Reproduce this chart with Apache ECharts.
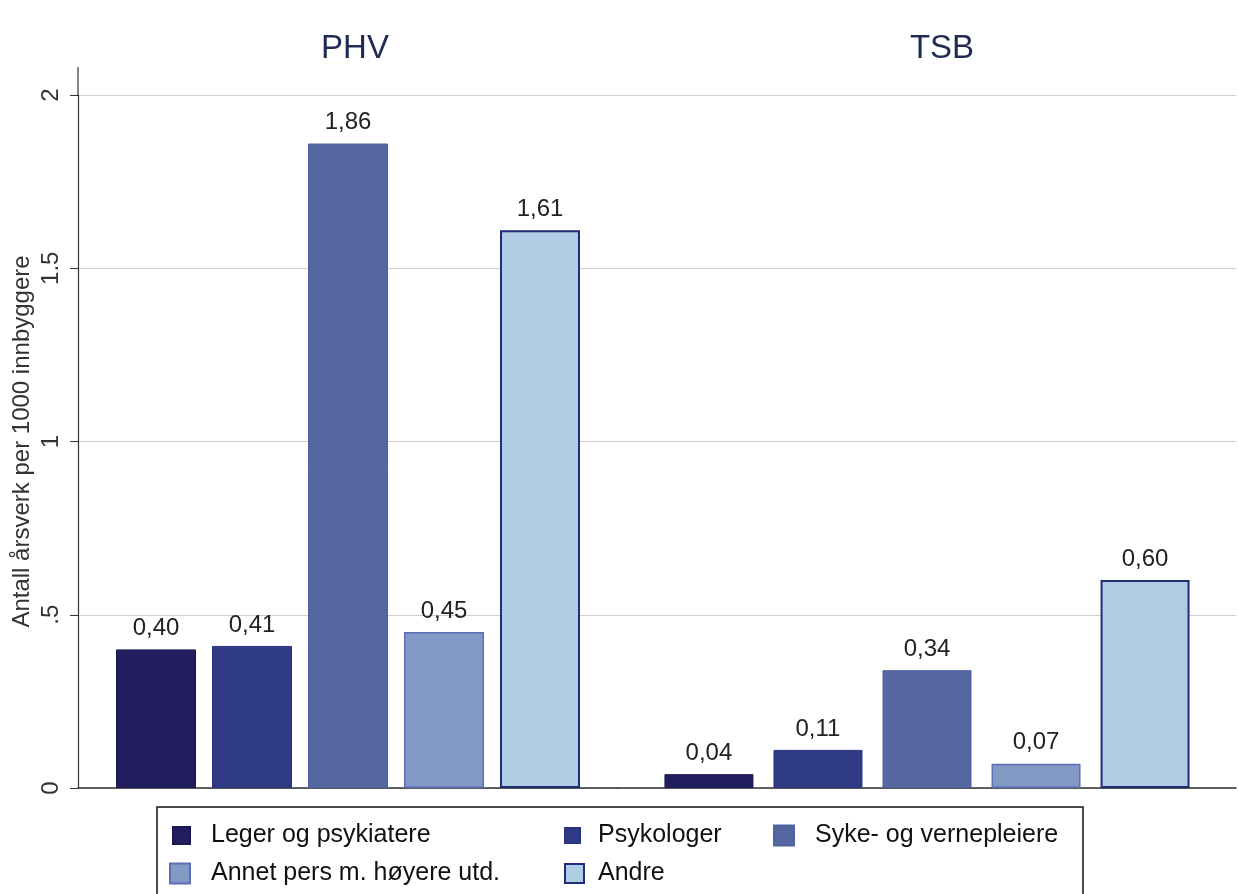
<!DOCTYPE html>
<html>
<head>
<meta charset="utf-8">
<script src="https://cdn.jsdelivr.net/npm/echarts@6/dist/echarts.min.js"></script>
<style>html,body{margin:0;padding:0;background:#fff}#c{width:1238px;height:894px}</style>
</head>
<body>
<div id="c"></div>
<script>
const panels = ['PHV', 'TSB'];
const seriesNames = ['Leger og psykiatere', 'Psykologer', 'Syke- og vernepleiere', 'Annet pers m. høyere utd.', 'Andre'];
const phvValues = [0.40, 0.41, 1.86, 0.45, 1.61];
const tsbValues = [0.04, 0.11, 0.34, 0.07, 0.60];
const yTicks = [0, 0.5, 1, 1.5, 2];
const yTickLabels = ['0', '.5', '1', '1.5', '2'];
const yAxisTitle = 'Antall årsverk per 1000 innbyggere';

const fills = ['#221e5e', '#2f3a85', '#54679f', '#8299c6', '#aecce3'];
const borders = ['#1a1850', '#2a3580', '#4f62a0', '#5b6fb5', '#232a78'];
const borderW = [1, 1, 1, 1.5, 2];
const FONT = '"Liberation Sans", Arial, sans-serif';

const chart = echarts.init(document.getElementById('c'), null, {renderer: 'canvas'});

function fmt(v) { return v.toFixed(2).replace('.', ','); }

const grids = [
  {left: 78, top: 95, width: 540, height: 693},
  {left: 618, top: 95, width: 618, height: 693}
];
const barWidths = [80, 89];
const barGaps = ['20%', '22.5%'];

const xAxes = panels.map((p, i) => ({
  type: 'category', gridIndex: i, data: [p],
  axisLine: {show: true, lineStyle: {color: '#333', width: 1.5}},
  axisTick: {show: false}, axisLabel: {show: false}
}));
const yAxes = panels.map((p, i) => ({
  type: 'value', gridIndex: i, min: 0, max: 2, interval: 0.5,
  name: i === 0 ? yAxisTitle : '',
  nameLocation: 'middle', nameGap: 44, nameRotate: 90,
  nameTextStyle: {fontFamily: FONT, fontSize: 24, color: '#333'},
  axisLine: {show: i === 0, lineStyle: {color: '#333', width: 1.2}},
  axisTick: {show: i === 0, length: 8, lineStyle: {color: '#333'}},
  axisLabel: {show: i === 0, rotate: 90, margin: 15, fontFamily: FONT, fontSize: 24, color: '#333',
    formatter: v => { const k = yTicks.indexOf(v); return k >= 0 ? yTickLabels[k] : ''; }},
  splitLine: {show: true, lineStyle: {color: '#cfcfcf', width: 1}}
}));

const series = [];
[phvValues, tsbValues].forEach((vals, p) => {
  seriesNames.forEach((name, k) => {
    series.push({
      name: name, type: 'bar', xAxisIndex: p, yAxisIndex: p,
      data: [vals[k]], barWidth: barWidths[p], barGap: barGaps[p],
      itemStyle: {color: fills[k], borderColor: borders[k], borderWidth: borderW[k]},
      label: {show: true, position: 'top', distance: 9, fontFamily: FONT, fontSize: 24, color: '#222',
        formatter: d => fmt(d.value)},
      emphasis: {disabled: true}, animation: false
    });
  });
});

const legendLayout = [
  {left: 172, top: 823, size: 17, pad: 16},
  {left: 564, top: 823, size: 15, pad: 13},
  {left: 773, top: 823, size: 20, pad: 16},
  {left: 169, top: 861, size: 20, pad: 16},
  {left: 564, top: 861, size: 19, pad: 9}
];
const legends = seriesNames.map((n, k) => ({
  data: [n], left: legendLayout[k].left, top: legendLayout[k].top, padding: 0,
  itemWidth: legendLayout[k].size, itemHeight: legendLayout[k].size, icon: 'rect', selectedMode: false,
  textStyle: {fontFamily: FONT, fontSize: 25, color: '#111', padding: [0, 0, 0, legendLayout[k].pad]}
}));

chart.setOption({
  animation: false,
  backgroundColor: '#fff',
  grid: grids,
  xAxis: xAxes,
  yAxis: yAxes,
  series: series,
  legend: legends,
  title: [
    {text: panels[0], left: 350, top: 27, textAlign: 'center', textStyle: {fontFamily: FONT, fontSize: 33, fontWeight: 'normal', color: '#1e2b52'}},
    {text: panels[1], left: 937, top: 27, textAlign: 'center', textStyle: {fontFamily: FONT, fontSize: 33, fontWeight: 'normal', color: '#1e2b52'}}
  ],
  graphic: [
    {type: 'line', shape: {x1: 78, y1: 67, x2: 78, y2: 95}, style: {stroke: '#333', lineWidth: 1.2}, silent: true},
    {type: 'rect', shape: {x: 157, y: 807, width: 926, height: 100}, style: {fill: 'none', stroke: '#111', lineWidth: 1.5}, silent: true, z: -1}
  ]
});
</script>
</body>
</html>
